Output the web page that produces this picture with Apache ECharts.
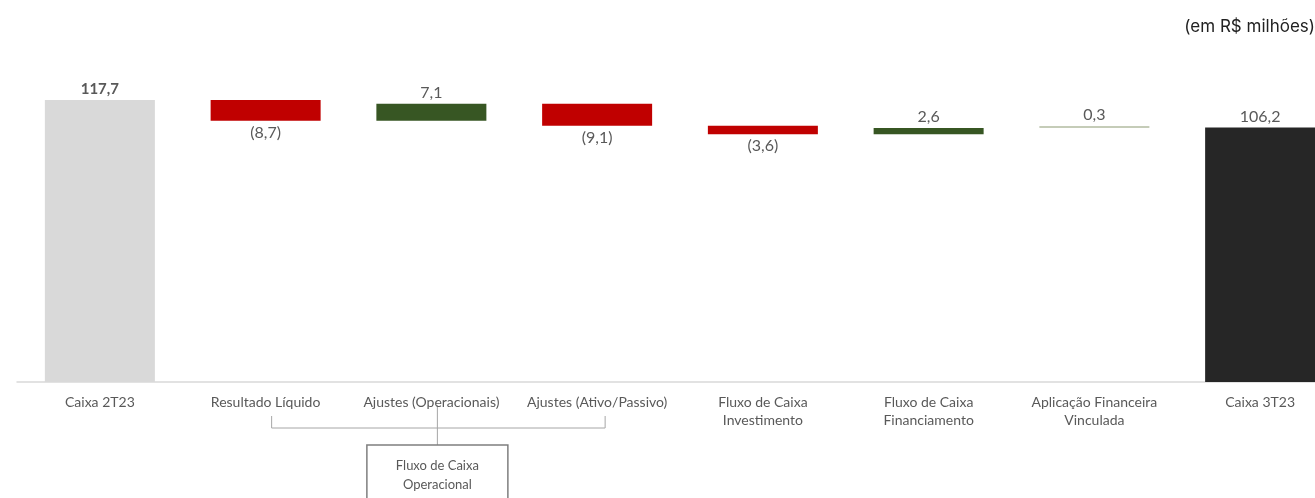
<!DOCTYPE html>
<html>
<head>
<meta charset="utf-8">
<script src="https://cdn.jsdelivr.net/npm/echarts@6/dist/echarts.min.js"></script>
<style>
html,body{margin:0;padding:0;background:#fff;overflow:hidden;width:1315px;height:498px;}
#c{width:1345px;height:498px;}
</style>
</head>
<body>
<div id="c"></div>
<script>
var categories = ['Caixa 2T23','Resultado Líquido','Ajustes (Operacionais)','Ajustes (Ativo/Passivo)','Fluxo de Caixa\nInvestimento','Fluxo de Caixa\nFinanciamento','Aplicação Financeira\nVinculada','Caixa 3T23'];
var values = [117.7, -8.7, 7.1, -9.1, -3.6, 2.6, 0.3, 106.2];
var isTotal = [true, false, false, false, false, false, false, true];
var barColors = ['#d9d9d9','#c00000','#375623','#c00000','#c00000','#375623','#c5ccb8','#262626'];
var groupMembers = ['Resultado Líquido','Ajustes (Operacionais)','Ajustes (Ativo/Passivo)'];
var groupLabel = 'Fluxo de Caixa\nOperacional';
var unitNote = '(em R$ milhões)';

function fmt(v){
  var s = Math.abs(v).toFixed(1).replace('.', ',');
  return v < 0 ? '(' + s + ')' : s;
}

var base = [], shown = [];
var running = 0;
values.forEach(function(v, i){
  if (isTotal[i]) { base.push(0); shown.push(v); running = v; }
  else if (v >= 0) { base.push(running); shown.push(v); running += v; }
  else { running += v; base.push(running); shown.push(-v); }
});

var shownData = shown.map(function(v, i){
  var neg = values[i] < 0;
  return {
    value: v,
    itemStyle: {color: barColors[i]},
    label: {
      show: true,
      position: neg ? 'bottom' : 'top',
      distance: neg ? 4 : 3,
      formatter: fmt(values[i]),
      fontWeight: i === 0 ? 'bold' : 'normal',
      fontSize: i === 0 ? 15 : 16
    }
  };
});

var chart = echarts.init(document.getElementById('c'));
var font = 'Lato, "Open Sans", sans-serif';
chart.setOption({
  animation: false,
  textStyle: {fontFamily: font},
  grid: {left: 17, right: 2, top: 94.5, bottom: 116, containLabel: false},
  xAxis: {
    type: 'category',
    data: categories,
    axisLine: {show: true, lineStyle: {color: '#d9d9d9', width: 1.5}},
    axisTick: {show: false},
    axisLabel: {interval: 0, color: '#595959', fontSize: 14, margin: 11, lineHeight: 18, fontFamily: font}
  },
  yAxis: {type: 'value', min: 0, max: 120, show: false, splitLine: {show: false}},
  series: [
    {type: 'bar', stack: 'w', data: base, itemStyle: {color: 'transparent'}, barWidth: 110, silent: true},
    {type: 'bar', stack: 'w', data: shownData, barWidth: 110, barMinHeight: 2,
     label: {color: '#595959', fontFamily: font}}
  ]
});

var xs = groupMembers.map(function(c){ return chart.convertToPixel({xAxisIndex: 0}, c); });
var x0 = xs[0] + 6, x1 = xs[2] + 8, xm = xs[1] + 6;
var yTick = 416, yH = 428, yTop = 405, boxTop = 445, boxW = 141;
var ls = {stroke: '#a6a6a6', lineWidth: 1};
chart.setOption({
  graphic: [
    {type: 'text', right: 30, top: 18, style: {text: unitNote, fill: '#222', font: '17px Inter, sans-serif', textAlign: 'right'}},
    {type: 'polyline', shape: {points: [[x0, yTick],[x0, yH],[x1, yH],[x1, yTick]]}, style: ls, silent: true},
    {type: 'line', shape: {x1: xm, y1: yTop, x2: xm, y2: boxTop}, style: ls, silent: true},
    {type: 'rect', shape: {x: xm - boxW/2, y: boxTop, width: boxW, height: 60}, style: {fill: '#fff', stroke: '#7f7f7f', lineWidth: 1.5}, silent: true},
    {type: 'text', x: xm, y: boxTop + 30, style: {text: groupLabel, fill: '#595959', font: '13px ' + font, textAlign: 'center', textVerticalAlign: 'middle', lineHeight: 19}, silent: true}
  ]
});
</script>
</body>
</html>
